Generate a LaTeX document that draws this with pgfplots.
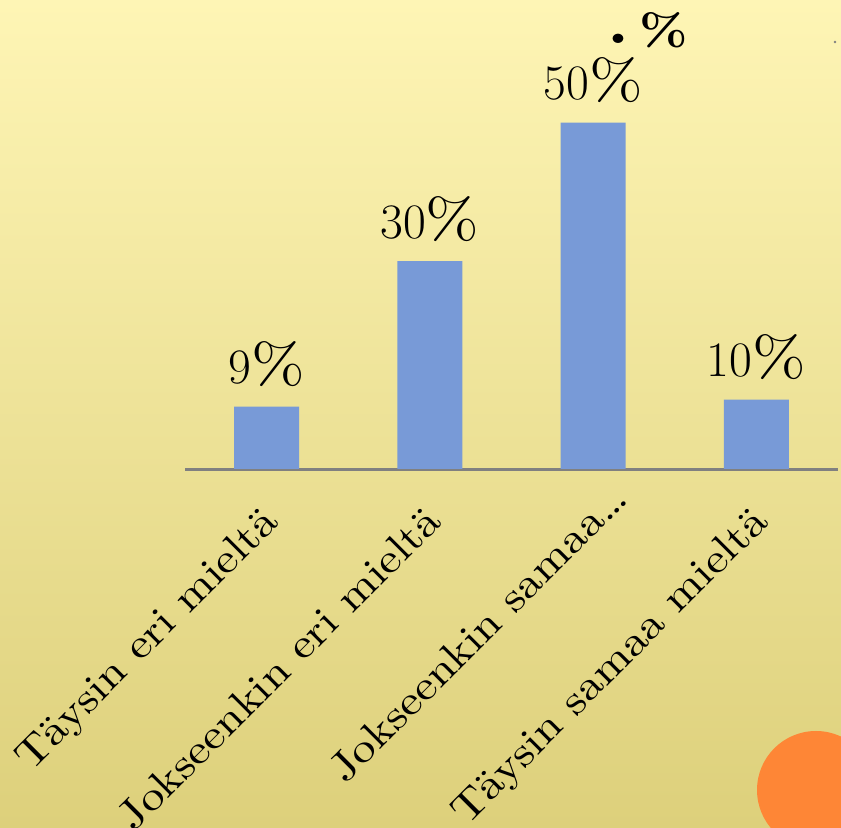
\documentclass[border=0pt]{standalone}
\usepackage{fontspec}
\setmainfont{lmroman10-regular}[Extension=.otf, BoldFont=lmroman10-bold, FakeStretch=1.15]
\usepackage{pgfplots}
\pgfplotsset{compat=1.18}
\definecolor{bgtop}{HTML}{FEF5B5}
\definecolor{bgbot}{HTML}{DDD07B}
\definecolor{barblue}{HTML}{789AD7}
\definecolor{dotorange}{HTML}{FE8636}
\begin{document}
\begin{tikzpicture}
\useasboundingbox (0,0) rectangle (420.5bp,414bp);
\clip (0,0) rectangle (420.5bp,414bp);
\shade[top color=bgtop, bottom color=bgbot] (0,0) rectangle (420.5bp,414bp);
\begin{axis}[
  at={(92.5bp,179.5bp)}, anchor=south west,
  scale only axis, width=326.5bp, height=207.9bp,
  xmin=-0.5, xmax=3.5, ymin=0, ymax=60,
  axis x line=bottom, axis y line=none,
  x axis line style={-, draw=gray, line width=1.5bp},
  xtick=data,
  xticklabels={Täysin eri mieltä, Jokseenkin eri mieltä, Jokseenkin samaa\dots\hspace*{-16bp}, Täysin samaa mieltä},
  major tick length=0pt,
  xticklabel style={font=\fontsize{20.6bp}{25bp}\selectfont, inner sep=0pt,
    xshift=7bp, yshift=-27bp, rotate=45, anchor=base east},
  ybar, bar width=32.5bp,
  nodes near coords={\pgfmathprintnumber{\pgfplotspointmeta}\%},
  nodes near coords style={font=\fontsize{28bp}{32bp}\selectfont, anchor=base,
    inner sep=0pt, yshift=11.5bp, text=black},
]
\addplot[fill=barblue, draw=none] coordinates {(0,9) (1,30) (2,50) (3,10)};
\end{axis}
\node[font=\fontsize{30bp}{32bp}\selectfont\bfseries, inner sep=0pt] at (309bp,394.5bp) {.};
\node[font=\fontsize{22bp}{26bp}\selectfont\bfseries, inner sep=0pt] at (332bp,399bp) {\%};
\fill[gray] (417.5bp,393bp) circle (0.7bp);
\fill[dotorange] (408bp,19bp) circle (29.5bp);
\end{tikzpicture}
\end{document}
